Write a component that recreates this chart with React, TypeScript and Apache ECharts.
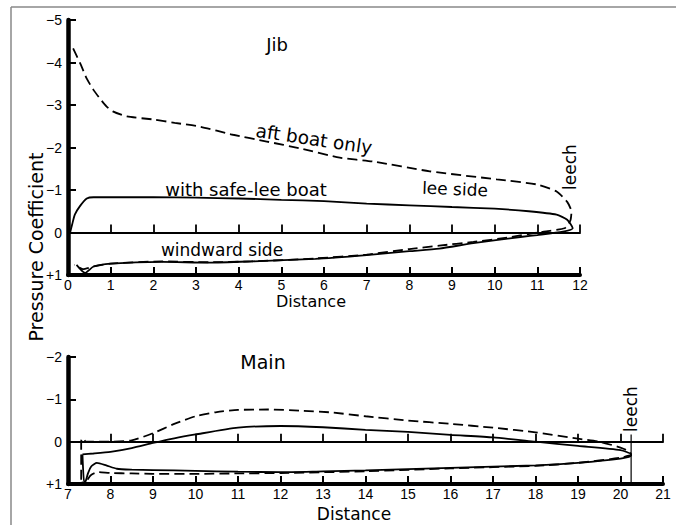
import React, { useEffect, useRef } from "react";
import * as echarts from "echarts";

// ---------- Data (x = distance, y = pressure coefficient) ----------
const jibTicksX = [0, 12];
const jibTicksY = [-5, 1];
const mainTicksX = [7, 21];
const mainTicksY = [-2, 1];

// Jib, aft boat only (dashed): lee side then windward side
const jibAftLee: number[][] = [
  [0.12, -4.33], [0.3, -3.95], [0.44, -3.62], [0.6, -3.35], [0.75, -3.15], [0.9, -2.97],
  [1.05, -2.85], [1.38, -2.73], [2.0, -2.66], [2.5, -2.58], [3.1, -2.49], [3.87, -2.3],
  [4.66, -2.14], [5.44, -1.98], [6.37, -1.76], [7.15, -1.67], [8.48, -1.44],
  [10.05, -1.25], [10.99, -1.13], [11.46, -0.96], [11.7, -0.72], [11.8, -0.49],
  [11.78, -0.3], [11.72, -0.18], [11.64, -0.1],
];
const jibAftWindward: number[][] = [
  [11.3, -0.04], [11.0, 0.0], [10.3, 0.12], [9.5, 0.22], [8.7, 0.31], [8.0, 0.39],
  [7.0, 0.52], [5.8, 0.61], [4.3, 0.68], [3.3, 0.7], [2.2, 0.68], [1.0, 0.73],
  [0.6, 0.8], [0.35, 0.86], [0.15, 0.76],
];

// Jib, with safe-lee boat (solid)
const jibSafeLee: number[][] = [
  [0.05, 0.0], [0.1, -0.2], [0.16, -0.42], [0.28, -0.62], [0.44, -0.8], [0.6, -0.83],
  [1, -0.83], [2, -0.83], [3, -0.82], [4, -0.8], [5, -0.77], [6, -0.74], [7, -0.68],
  [8, -0.64], [9, -0.6], [10, -0.56], [10.8, -0.5], [11.45, -0.42], [11.7, -0.3],
  [11.83, -0.1],
];
const jibSafeWindward: number[][] = [
  [11.6, -0.02], [11.0, 0.06], [10.65, 0.1], [9.5, 0.25], [8.7, 0.38], [8.0, 0.44],
  [7.0, 0.53], [5.8, 0.62], [4.3, 0.68], [3.3, 0.71], [2.2, 0.69], [1.0, 0.73],
  [0.6, 0.8], [0.4, 0.95], [0.2, 0.76],
];

// Main, aft boat only (dashed)
const mainAftLee: number[][] = [
  [7.31, 0.9], [7.31, 0.0], [7.33, -0.08], [7.37, -0.06], [7.42, 0.0], [8.0, 0.0],
  [8.5, -0.03], [9.0, -0.2], [9.5, -0.42], [10.0, -0.6], [10.5, -0.7], [11.0, -0.75],
  [11.7, -0.76], [12.5, -0.73], [13.2, -0.69], [14, -0.6], [15, -0.5], [16, -0.42],
  [17, -0.33], [18, -0.22], [19, -0.07], [19.5, 0.0], [20, 0.14], [20.2, 0.23],
  [20.25, 0.3],
];
const mainAftWindward: number[][] = [
  [20.0, 0.38], [19, 0.5], [18, 0.57], [16, 0.63], [14, 0.7], [12, 0.74], [11, 0.75],
  [10, 0.76], [9, 0.76], [8.5, 0.75], [8.0, 0.74], [7.7, 0.72], [7.55, 0.78],
  [7.47, 0.88], [7.42, 0.98], [7.37, 1.0], [7.32, 0.95],
];

// Main, with safe-lee boat (solid)
const mainSafeLee: number[][] = [
  [7.34, 0.3], [7.6, 0.28], [8, 0.24], [8.5, 0.15], [9, 0.03], [9.5, -0.08],
  [10, -0.17], [11, -0.33], [12, -0.37], [13, -0.34], [14, -0.28], [15, -0.23],
  [16, -0.16], [17, -0.1], [18, 0.0], [19, 0.1], [20, 0.2], [20.25, 0.3],
];
const mainSafeWindward: number[][] = [
  [20.25, 0.33], [20, 0.4], [19, 0.5], [18, 0.56], [16, 0.62], [14, 0.68], [13, 0.7],
  [12, 0.72], [11, 0.71], [10, 0.69], [9, 0.67], [8.5, 0.66], [8.15, 0.64],
  [7.9, 0.56], [7.68, 0.5], [7.55, 0.58], [7.47, 0.75], [7.42, 0.92], [7.38, 0.98],
];

const mainLeech: number[][] = [[20.25, -0.17], [20.25, 1]];

const FONT = "DejaVu Sans";
const TICK_FONT = "Liberation Sans";

function fmtY(v: number) {
  if (v > 0) return "+" + v;
  if (v < 0) return "\u2212" + Math.abs(v);
  return "0";
}

function xAxes(grid: number, ticks: number[]) {
  return [
    {
      gridIndex: grid,
      type: "value",
      min: ticks[0],
      max: ticks[1],
      interval: 1,
      position: "bottom",
      axisLine: { show: true, onZero: false, lineStyle: { color: "#000", width: 4 } },
      axisTick: { show: true, inside: true, length: 8, lineStyle: { color: "#000", width: 2 } },
      axisLabel: { show: true, color: "#000", fontFamily: TICK_FONT, fontSize: 14, margin: 3 },
      splitLine: { show: false },
    },
    {
      gridIndex: grid,
      type: "value",
      min: ticks[0],
      max: ticks[1],
      interval: 1,
      position: "bottom",
      axisLine: { show: true, onZero: true, lineStyle: { color: "#000", width: 2 } },
      axisTick: { show: true, inside: true, length: 8, lineStyle: { color: "#000", width: 1.8 } },
      axisLabel: { show: false },
      splitLine: { show: false },
    },
  ];
}

function yAxis(grid: number, ticks: number[]) {
  return {
    gridIndex: grid,
    type: "value",
    min: ticks[0],
    max: ticks[1],
    interval: 1,
    inverse: true,
    position: "left",
    axisLine: { show: true, onZero: false, lineStyle: { color: "#000", width: 4.5 } },
    axisTick: { show: true, inside: true, length: 8, lineStyle: { color: "#000", width: 2 } },
    axisLabel: { show: true, color: "#000", fontFamily: TICK_FONT, fontSize: 14, margin: 6, formatter: fmtY },
    splitLine: { show: false },
  };
}

function lineSeries(data: number[][], xi: number, yi: number, dashed: boolean, width = 1.8) {
  return {
    type: "line",
    xAxisIndex: xi,
    yAxisIndex: yi,
    data,
    symbol: "none",
    smooth: 0.2,
    silent: true,
    clip: false,
    lineStyle: { color: "#000", width, type: dashed ? [10, 5] : "solid" },
  };
}

function label(text: string, x: number, y: number, size = 17, rotation = 0) {
  return {
    type: "text",
    x,
    y,
    rotation,
    style: {
      text,
      fill: "#000",
      font: `${size}px "${FONT}"`,
      align: "center",
      verticalAlign: "middle",
    },
  };
}

export default function App() {
  const ref = useRef<HTMLDivElement>(null);
  useEffect(() => {
    if (!ref.current) return;
    const chart = echarts.init(ref.current, undefined, { renderer: "svg" });
    chart.setOption({
      animation: false,
      backgroundColor: "#fff",
      grid: [
        { left: 68, top: 20, width: 512, height: 255, containLabel: false },
        { left: 68, top: 357, width: 595, height: 127, containLabel: false },
      ],
      xAxis: [...xAxes(0, jibTicksX), ...xAxes(1, mainTicksX)],
      yAxis: [yAxis(0, jibTicksY), yAxis(1, mainTicksY)],
      series: [
        lineSeries([...jibAftLee, ...jibAftWindward], 0, 0, true),
        lineSeries([...jibSafeLee, ...jibSafeWindward], 0, 0, false),
        lineSeries([...mainAftLee, ...mainAftWindward], 2, 1, true),
        lineSeries([...mainSafeLee, ...mainSafeWindward, mainSafeLee[0]], 2, 1, false),
        lineSeries(mainLeech, 2, 1, false, 1.2),
      ],
      graphic: [
        { type: "line", shape: { x1: 11, y1: 7, x2: 676, y2: 7 }, style: { stroke: "#888", lineWidth: 1.5 } },
        { type: "line", shape: { x1: 11, y1: 7, x2: 11, y2: 525 }, style: { stroke: "#888", lineWidth: 1.5 } },
        label("Jib", 277, 44, 18),
        label("aft boat only", 314, 139, 18.5, -0.15),
        label("with safe-lee boat", 246, 189, 18),
        label("lee side", 455, 189, 17, -0.04),
        label("windward side", 222, 250, 17),
        label("leech", 570, 167, 17, Math.PI / 2),
        label("Distance", 311, 301, 16),
        label("Pressure Coefficient", 36, 247, 19, Math.PI / 2),
        label("Main", 263, 362, 19),
        label("leech", 631, 409, 17, Math.PI / 2),
        label("Distance", 354, 514, 17),
      ],
    });
    return () => chart.dispose();
  }, []);
  return (
    <div
      ref={ref}
      style={{ position: "fixed", left: 0, top: 0, width: 676, height: 525, background: "#fff" }}
    />
  );
}
